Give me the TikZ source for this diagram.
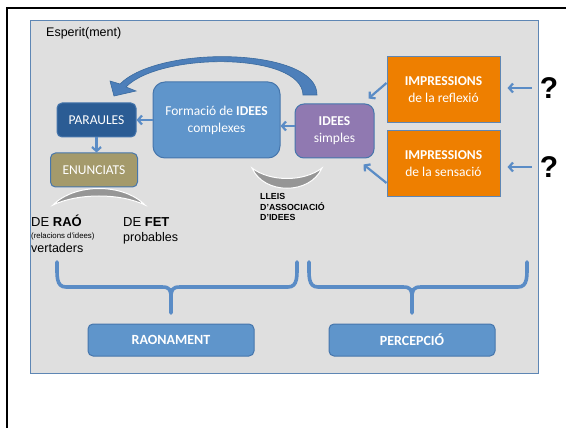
\documentclass[tikz,border=0pt]{standalone}
\usepackage{fontspec}
\setmainfont{Liberation Sans}
\newfontfamily\carl{Carlito}
\usetikzlibrary{arrows.meta}
\definecolor{panelgray}{HTML}{DFDFDF}
\definecolor{panelborder}{HTML}{5E86B4}
\definecolor{midblue}{HTML}{5F95CB}
\definecolor{midblueb}{HTML}{4676AC}
\definecolor{darkblue}{HTML}{2B5C94}
\definecolor{purp}{HTML}{9079B1}
\definecolor{khaki}{HTML}{A49A6B}
\definecolor{orng}{HTML}{EE7F00}
\definecolor{arrblue}{HTML}{5A8CC6}
\definecolor{curveblue}{HTML}{4D7FBA}
\definecolor{curvedark}{HTML}{3A6A9E}
\definecolor{crgray}{HTML}{969696}
\tikzset{
  bx/.style={rectangle, line width=1pt, text=white, align=center, inner sep=0pt,
    font=\carl\fontsize{13.5}{17}\selectfont},
  arr/.style={draw=arrblue, line width=2.2pt, -{Straight Barb[length=4pt,width=9pt]}},
  brace/.style={draw=arrblue, line width=3.6pt, line cap=round},
  crescent/.style={fill=crgray, draw=white, line width=1pt},
  qmark/.style={font=\bfseries\fontsize{30}{30}\selectfont, inner sep=0pt},
}
\begin{document}
\begin{tikzpicture}[x=1pt,y=-1pt]
\useasboundingbox (0,0) rectangle (566,428);
\fill[white] (0,0) rectangle (566,428);
\draw[line width=2pt] (7,432) -- (7,8) -- (570,8);
\draw[fill=panelgray, draw=panelborder, line width=1pt] (30,21) rectangle (538,373);

\node[anchor=base west, font=\fontsize{12.5}{14}\selectfont, inner sep=0pt] (esp) at (46,37) {Esperit(ment)};

% boxes
\node[bx, fill=darkblue, draw=midblueb, rounded corners=5pt, minimum width=79pt, minimum height=34pt] (paraules) at (96.5,120) {PARAULES};
\node[bx, fill=midblue, draw=midblueb, rounded corners=12pt, minimum width=127pt, minimum height=76pt] (formacio) at (216.5,120) {Formació de \textbf{IDEES}\\complexes};
\node[bx, fill=purp, draw=midblueb, rounded corners=9pt, minimum width=79pt, minimum height=54pt] (simples) at (334.5,131) {\textbf{IDEES}\\simples};
\node[bx, fill=orng, draw=panelborder, minimum width=113pt, minimum height=66pt] (reflexio) at (443.5,90) {\textbf{IMPRESSIONS}\\de la reflexió};
\node[bx, fill=orng, draw=panelborder, minimum width=113pt, minimum height=66pt] (sensacio) at (443.5,164) {\textbf{IMPRESSIONS}\\de la sensació};
\node[bx, fill=khaki, draw=midblueb, rounded corners=5pt, minimum width=87pt, minimum height=34pt] (enunciats) at (94,170) {ENUNCIATS};
\node[bx, fill=midblue, draw=midblueb, rounded corners=5pt, minimum width=166pt, minimum height=32pt, font=\carl\bfseries\fontsize{14}{16}\selectfont] (raonament) at (171,340) {RAONAMENT};
\node[bx, fill=midblue, draw=midblueb, rounded corners=5pt, minimum width=166pt, minimum height=32pt, font=\carl\bfseries\fontsize{14}{16}\selectfont] (percepcio) at (412,340) {PERCEPCIÓ};

% question marks
\node[qmark] (q1) at (549,88) {?};
\node[qmark] (q2) at (549,167) {?};

% arrows
\draw[arr, shorten <=8pt, shorten >=7pt] (q1.west) -- (q1.west -| reflexio.east);
\draw[arr, shorten <=8pt, shorten >=7pt] (q2.west) -- (q2.west -| sensacio.east);
\draw[arr] ([yshift=7pt]reflexio.west) -- ([xshift=-6pt,yshift=5pt]simples.north east);
\draw[arr] ([yshift=-19pt]sensacio.west) -- ([xshift=-11pt,yshift=-6pt]simples.south east);
\draw[arr] ([yshift=5pt]simples.west) -- ([yshift=5pt]simples.west -| formacio.east);
\draw[arr] (formacio.west) -- (paraules.east);
\draw[arr] (paraules.south) -- (paraules.south |- enunciats.north);

% curved block arrow
\filldraw[fill=curveblue, draw=curvedark, line width=0.6pt]
  (303,95) .. controls (302,52) and (160,52) .. (126,87)
  -- (136,91) -- (114,96) -- (110,81) -- (120,84)
  .. controls (160,44) and (318,48) .. (317,95) -- cycle;

% crescents
\draw[crescent] (53,205) .. controls (75,183) and (123,183) .. (145,205)
  .. controls (120,193) and (78,193) .. (53,205) -- cycle;
\draw[crescent] (252,168) .. controls (270,182) and (304,182) .. (322,168)
  .. controls (310,195) and (264,195) .. (252,168) -- cycle;

% texts
\node[anchor=base west, inner sep=0pt, font=\bfseries\fontsize{8.8}{10.5}\selectfont, align=left] (lleis) at (260,221) {LLEIS\\D’ASSOCIACIÓ\\D’IDEES};
\node[anchor=base west, inner sep=0pt, font=\fontsize{13}{15}\selectfont] (rao) at (31,226.5) {DE \textbf{RAÓ}};
\node[anchor=base west, inner sep=0pt, font=\fontsize{7.8}{9}\selectfont] (relac) at (31,238) {(relacions d’idees)};
\node[anchor=base west, inner sep=0pt, font=\fontsize{12.5}{14}\selectfont] (vert) at (31,252.5) {vertaders};
\node[anchor=base west, inner sep=0pt, font=\fontsize{13}{15}\selectfont] (fet) at (123,226.5) {DE \textbf{FET}};
\node[anchor=base west, inner sep=0pt, font=\fontsize{12.5}{14}\selectfont] (prob) at (123,241.5) {probables};

% braces
\draw[brace] (57,262) .. controls (57,276) and (56,287) .. (66,287) -- (162,287)
  .. controls (170,287) and (171,290) .. (171,298) -- (171,313);
\draw[brace] (171,298) .. controls (171,290) and (172,287) .. (180,287) -- (288,287)
  .. controls (298,287) and (297,276) .. (297,262);
\draw[brace] (309,262) .. controls (309,276) and (308,287) .. (318,287) -- (403,287)
  .. controls (411,287) and (412,290) .. (412,298) -- (412,313);
\draw[brace] (412,298) .. controls (412,290) and (413,287) .. (421,287) -- (518,287)
  .. controls (528,287) and (527,276) .. (527,262);
\end{tikzpicture}
\end{document}
